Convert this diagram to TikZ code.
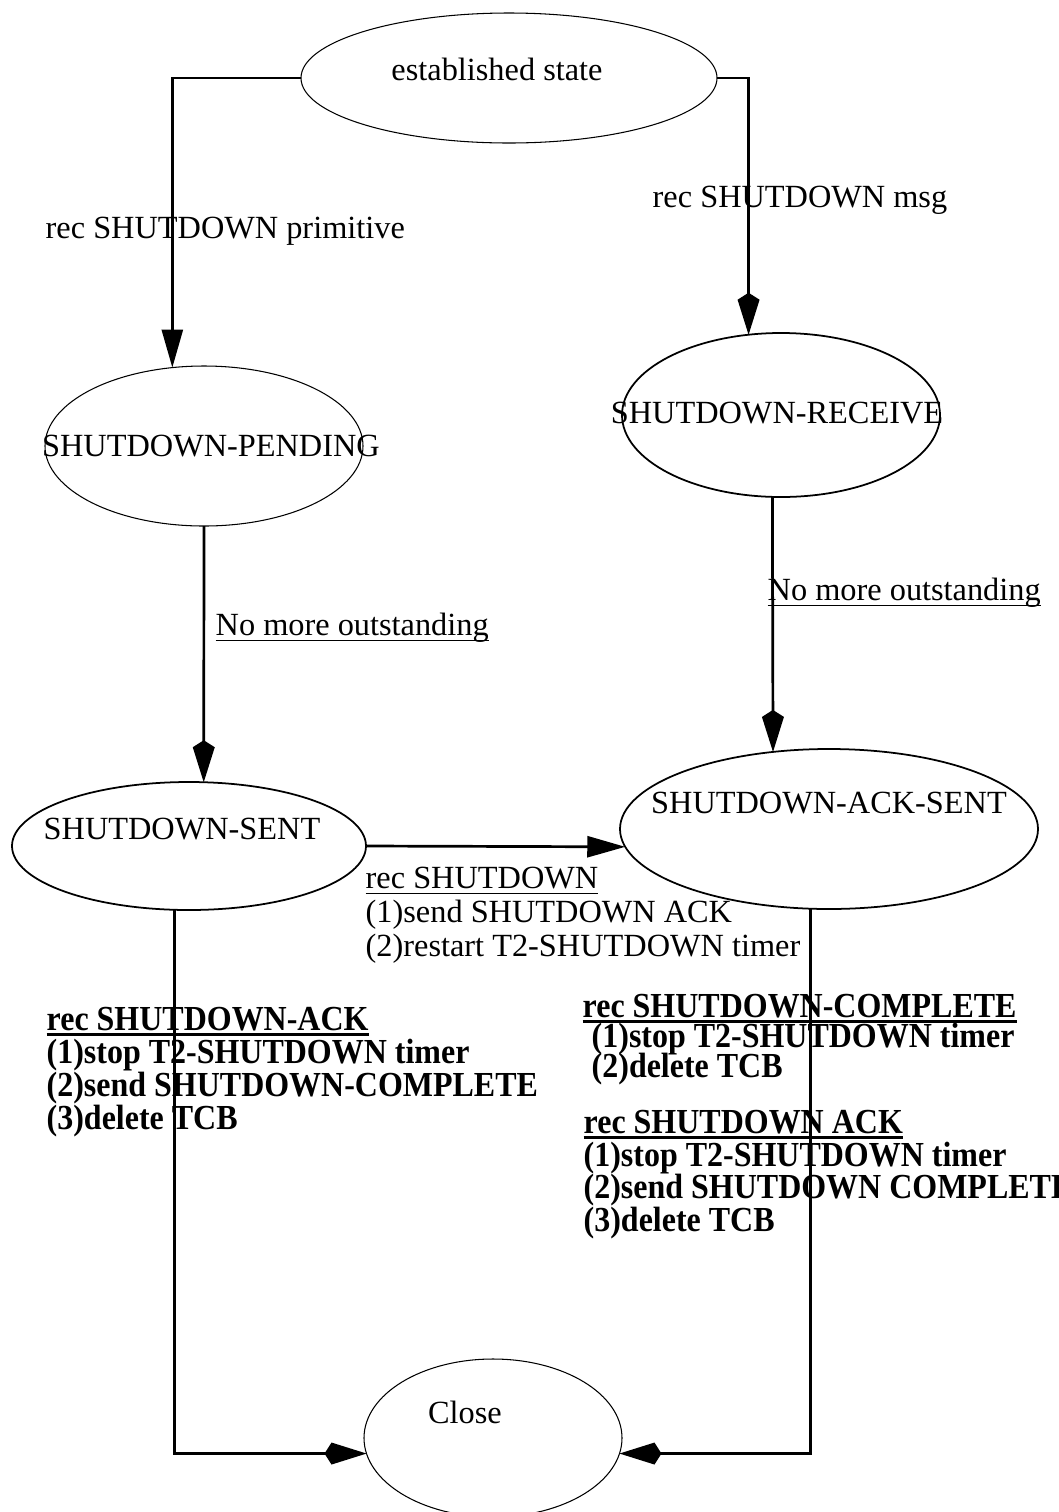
\documentclass[tikz,border=0pt]{standalone}
\usepackage{fontspec}
\setmainfont{Liberation Serif}[BoldFeatures={FakeStretch=0.91}]
\usetikzlibrary{shapes.geometric}
\usetikzlibrary{arrows.meta}

% underline with a rule of given thickness
\newcommand\ulbar[2][0.45pt]{\setbox0\hbox{#2}\rlap{\rule[-1.75pt]{\wd0}{#1}}\box0}

\tikzset{
    state/.style={ellipse,draw,inner sep=0pt,outer sep=0pt,line width=0.3pt},
    boldstate/.style={state,line width=0.5pt},
    conn/.style={line width=0.77pt},
    tritip/.style={-{Triangle[length=3.8mm,width=2.1mm]}},
    kitetip/.style={-{Kite[length=4.2mm,width=2.2mm,inset=0.7mm]}},
    txt/.style={anchor=base west,inner sep=0pt},
    statetxt/.style={anchor=base,inner sep=0pt},
}

\begin{document}
\begin{tikzpicture}[font=\fontsize{9.2}{11}\selectfont]
    \useasboundingbox (0,0) rectangle (10.59,-15.12);

    % states
    \node (est) at (5.09,-0.78) [state,minimum width=4.16cm,minimum height=1.30cm]{};
    \node (pend) at (2.04,-4.46) [state,minimum width=3.18cm,minimum height=1.60cm]{};
    \node (recv) at (7.81,-4.15) [boldstate,minimum width=3.18cm,minimum height=1.64cm]{};
    \node (sent) at (1.89,-8.46) [boldstate,minimum width=3.54cm,minimum height=1.28cm]{};
    \node (ack) at (8.29,-8.29) [boldstate,minimum width=4.18cm,minimum height=1.60cm]{};
    \node (close) at (4.93,-14.38) [state,minimum width=2.58cm,minimum height=1.58cm]{};

    \node (esttxt) at (4.97,-0.80) [statetxt]{established state};
    \node (pendtxt) at (2.11,-4.56) [statetxt]{SHUTDOWN-PENDING};
    \node (recvtxt) at (7.77,-4.23) [statetxt]{SHUTDOWN-RECEIVE};
    \node (senttxt) at (1.82,-8.39) [statetxt]{SHUTDOWN-SENT};
    \node (acktxt) at (8.29,-8.13) [statetxt]{SHUTDOWN-ACK-SENT};
    \node (closetxt) at (4.65,-14.23) [statetxt]{Close};

    % transitions
    \draw[conn,tritip] (est.west) -| (pend.112);
    \draw[conn,kitetip] (est.east) -| (recv.112);
    \draw[conn,kitetip] (pend.south) -- (sent.77);
    \draw[conn,kitetip] (recv.264) -- (ack.126);
    \draw[conn,tritip] (sent.east) -- (ack.185);
    \draw[conn,kitetip] (sent.257) |- (close.187);
    \draw[conn,kitetip] (ack.257) |- (close.353);

    % events and actions
    \node (lprim) at (0.45,-2.38) [txt]{rec SHUTDOWN primitive};
    \node (lmsg) at (6.52,-2.07) [txt]{rec SHUTDOWN msg};
    \node (lmoreA) at (2.15,-6.35) [txt]{\ulbar{No more outstanding}};
    \node (lmoreB) at (7.67,-6.00) [txt]{\ulbar{No more outstanding}};

    \node (lrecA) at (3.65,-8.88) [txt]{\ulbar{rec SHUTDOWN}};
    \node (lrecB) at (3.65,-9.22) [txt]{(1)send SHUTDOWN ACK};
    \node (lrecC) at (3.65,-9.56) [txt]{(2)restart T2-SHUTDOWN timer};

    \node (lackA) at (0.46,-10.30) [txt,font=\bfseries]{\ulbar[0.8pt]{rec SHUTDOWN-ACK}};
    \node (lackB) at (0.46,-10.63) [txt,font=\bfseries]{(1)stop T2-SHUTDOWN timer};
    \node (lackC) at (0.46,-10.96) [txt,font=\bfseries]{(2)send SHUTDOWN-COMPLETE};
    \node (lackD) at (0.46,-11.29) [txt,font=\bfseries]{(3)delete TCB};

    \node (lcplA) at (5.82,-10.17) [txt,font=\bfseries]{\ulbar[0.8pt]{rec SHUTDOWN-COMPLETE}};
    \node (lcplB) at (5.91,-10.47) [txt,font=\bfseries]{(1)stop T2-SHUTDOWN timer};
    \node (lcplC) at (5.91,-10.77) [txt,font=\bfseries]{(2)delete TCB};

    \node (lsakA) at (5.83,-11.33) [txt,font=\bfseries]{\ulbar[0.8pt]{rec SHUTDOWN ACK}};
    \node (lsakB) at (5.83,-11.66) [txt,font=\bfseries]{(1)stop T2-SHUTDOWN timer};
    \node (lsakC) at (5.83,-11.98) [txt,font=\bfseries]{(2)send SHUTDOWN COMPLETE};
    \node (lsakD) at (5.83,-12.31) [txt,font=\bfseries]{(3)delete TCB};
\end{tikzpicture}
\end{document}
